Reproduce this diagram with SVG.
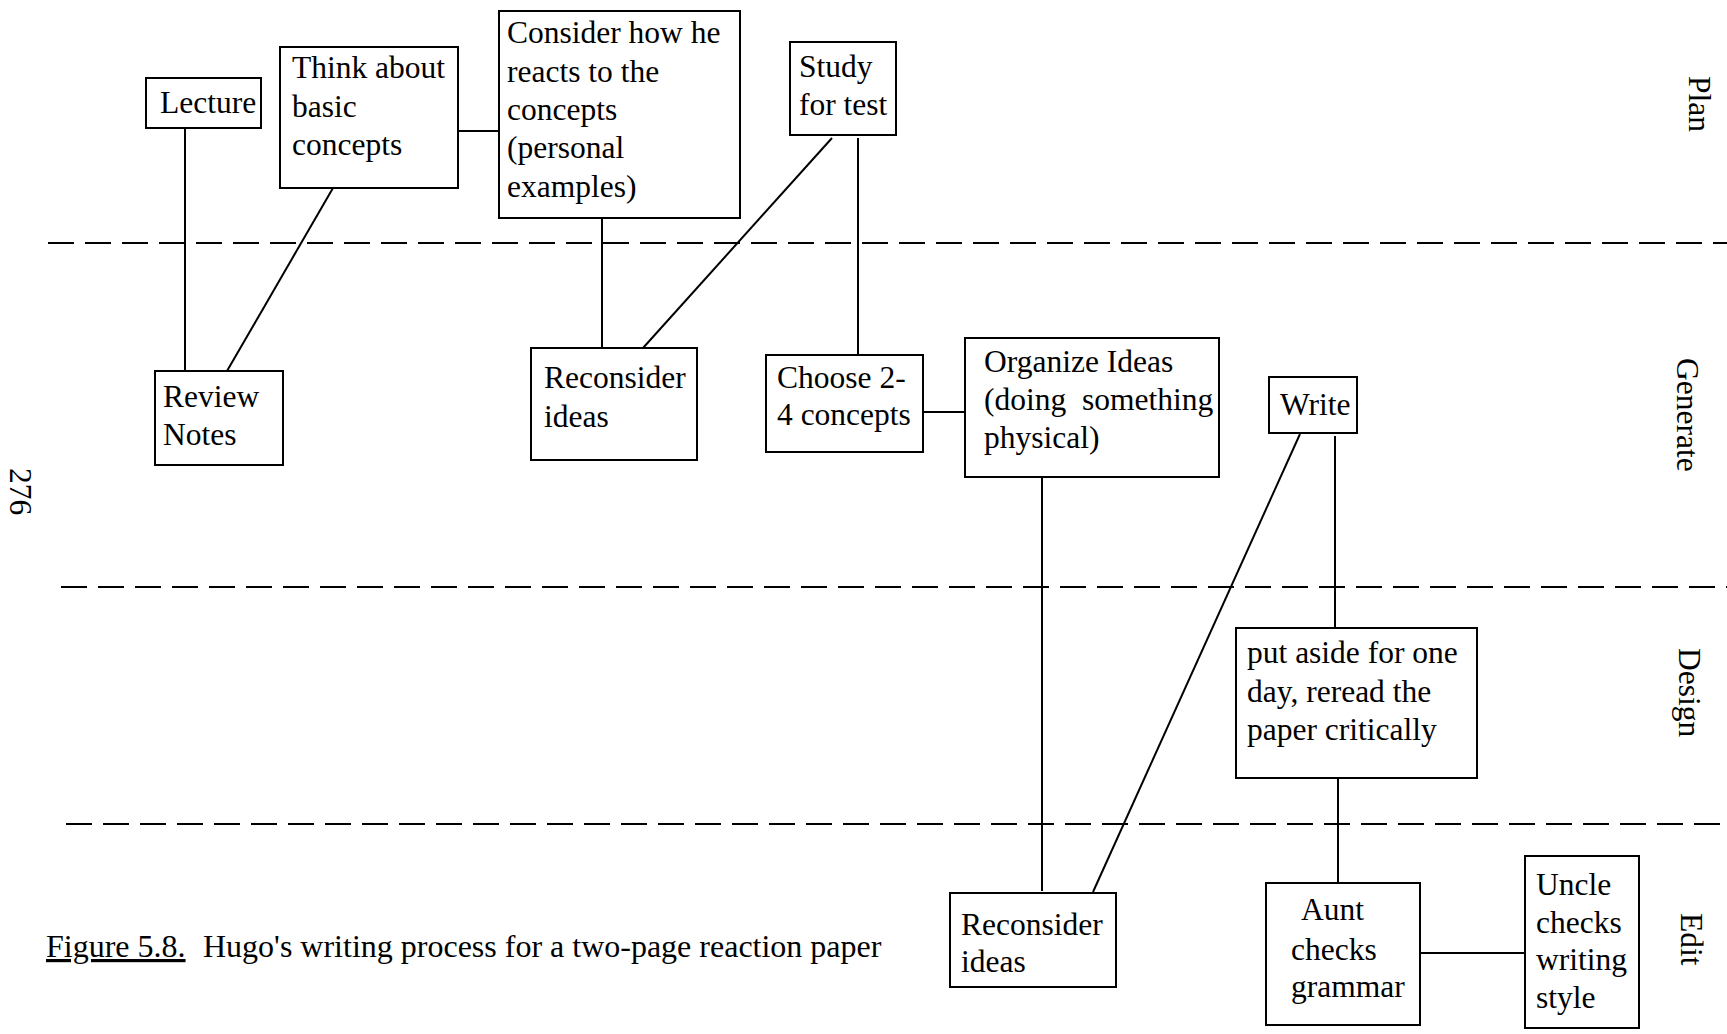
<svg xmlns="http://www.w3.org/2000/svg" width="1727" height="1034" viewBox="0 0 1727 1034">
<style>
.box{fill:#fff;stroke:#000;stroke-width:2}
.t{font-family:"Liberation Serif","Times New Roman",serif;font-size:31.5px;fill:#000}
.cap{font-size:32px}
.c{stroke:#000;stroke-width:2;fill:none}
.d{stroke:#000;stroke-width:2;stroke-dasharray:26 11;fill:none}
</style>
<rect width="1727" height="1034" fill="#fff"/>
<g id="dividers">
<line class="d" x1="48" y1="243" x2="1727" y2="243"/>
<line class="d" x1="61" y1="587" x2="1727" y2="587"/>
<line class="d" x1="66" y1="824" x2="1727" y2="824"/>
</g>
<g id="connectors">
<line class="c" x1="185" y1="128" x2="185" y2="371"/>
<line class="c" x1="333" y1="188" x2="227" y2="371"/>
<line class="c" x1="458" y1="131" x2="499" y2="131"/>
<line class="c" x1="602" y1="218" x2="602" y2="348"/>
<line class="c" x1="832" y1="138" x2="643" y2="348"/>
<line class="c" x1="858" y1="138" x2="858" y2="355"/>
<line class="c" x1="923" y1="412" x2="965" y2="412"/>
<line class="c" x1="1042" y1="477" x2="1042" y2="891"/>
<line class="c" x1="1300" y1="434" x2="1093" y2="892"/>
<line class="c" x1="1335" y1="436" x2="1335" y2="628"/>
<line class="c" x1="1338" y1="778" x2="1338" y2="883"/>
<line class="c" x1="1420" y1="953" x2="1525" y2="953"/>
</g>
<g id="lecture">
<rect class="box" x="146" y="78" width="115" height="50"/>
<text class="t" x="160" y="113">Lecture</text>
</g>
<g id="think">
<rect class="box" x="280" y="47" width="178" height="141"/>
<text class="t"><tspan x="292" y="78">Think about</tspan><tspan x="292" y="117">basic</tspan><tspan x="292" y="155">concepts</tspan></text>
</g>
<g id="consider">
<rect class="box" x="499" y="11" width="241" height="207"/>
<text class="t"><tspan x="507" y="43">Consider how he</tspan><tspan x="507" y="82">reacts to the</tspan><tspan x="507" y="120">concepts</tspan><tspan x="507" y="158">(personal</tspan><tspan x="507" y="197">examples)</tspan></text>
</g>
<g id="study">
<rect class="box" x="790" y="42" width="106" height="93"/>
<text class="t"><tspan x="799" y="77">Study</tspan><tspan x="799" y="115">for test</tspan></text>
</g>
<g id="review">
<rect class="box" x="155" y="371" width="128" height="94"/>
<text class="t"><tspan x="163" y="407">Review</tspan><tspan x="163" y="445">Notes</tspan></text>
</g>
<g id="reconsider1">
<rect class="box" x="531" y="348" width="166" height="112"/>
<text class="t"><tspan x="544" y="388">Reconsider</tspan><tspan x="544" y="427">ideas</tspan></text>
</g>
<g id="choose">
<rect class="box" x="766" y="355" width="157" height="97"/>
<text class="t"><tspan x="777" y="388">Choose 2-</tspan><tspan x="777" y="425">4 concepts</tspan></text>
</g>
<g id="organize">
<rect class="box" x="965" y="338" width="254" height="139"/>
<text class="t"><tspan x="984" y="372">Organize Ideas</tspan><tspan x="984" y="410">(doing</tspan><tspan x="1082" y="410">something</tspan><tspan x="984" y="448">physical)</tspan></text>
</g>
<g id="write">
<rect class="box" x="1269" y="377" width="88" height="56"/>
<text class="t" x="1280" y="415">Write</text>
</g>
<g id="putaside">
<rect class="box" x="1236" y="628" width="241" height="150"/>
<text class="t"><tspan x="1247" y="663">put aside for one</tspan><tspan x="1247" y="702">day, reread the</tspan><tspan x="1247" y="740">paper critically</tspan></text>
</g>
<g id="reconsider2">
<rect class="box" x="950" y="893" width="166" height="94"/>
<text class="t"><tspan x="961" y="935">Reconsider</tspan><tspan x="961" y="972">ideas</tspan></text>
</g>
<g id="aunt">
<rect class="box" x="1266" y="883" width="154" height="142"/>
<text class="t"><tspan x="1301" y="920">Aunt</tspan><tspan x="1291" y="960">checks</tspan><tspan x="1291" y="997">grammar</tspan></text>
</g>
<g id="uncle">
<rect class="box" x="1525" y="856" width="114" height="172"/>
<text class="t"><tspan x="1536" y="895">Uncle</tspan><tspan x="1536" y="933">checks</tspan><tspan x="1536" y="970">writing</tspan><tspan x="1536" y="1008">style</tspan></text>
</g>
<g id="labels">
<text class="t" transform="translate(1689,76) rotate(90)">Plan</text>
<text class="t" transform="translate(1677,358) rotate(90)">Generate</text>
<text class="t" transform="translate(1679,648) rotate(90)">Design</text>
<text class="t" transform="translate(1681,913) rotate(90)">Edit</text>
<text class="t" transform="translate(10,468) rotate(90)">276</text>
</g>
<g id="caption">
<text class="t cap" x="46" y="957" text-decoration="underline">Figure 5.8.</text>
<text class="t cap" x="203" y="957">Hugo's writing process for a two-page reaction paper</text>
</g>
</svg>
